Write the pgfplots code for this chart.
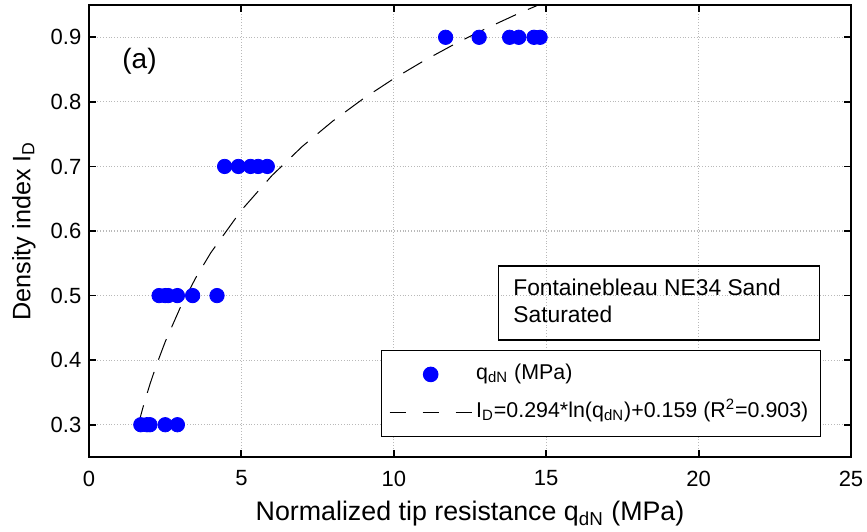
\documentclass[border=0pt]{standalone}
\usepackage{pgfplots}
\pgfplotsset{compat=1.18}
\usepackage{fontspec}
\setmainfont{Liberation Sans}
\definecolor{ptblue}{RGB}{0,0,255}
\pgfplotsset{
    markleg/.style={legend image code/.code={%
        \draw[mark repeat=2,mark phase=2,##1] plot coordinates {(0pt,0pt)(20.5pt,0pt)(41pt,0pt)};}},
    lineleg/.style={legend image code/.code={%
        \draw[black, line width=0.5pt, dash pattern=on 8pt off 8.5pt] (0pt,0pt) -- (41pt,0pt);}},
}

\begin{document}
\fontsize{11}{13}\selectfont
\begin{tikzpicture}
\begin{axis}[
    at={(0,0)}, anchor=south west,
    scale only axis,
    width=381pt, height=226pt,
    xmin=0, xmax=25, ymin=0.25, ymax=0.95,
    xtick={0,5,10,15,20,25},
    ytick={0.3,0.4,0.5,0.6,0.7,0.8,0.9},
    tick align=inside, tick pos=both,
    major tick length=3.5pt,
    tick style={black, line width=0.9pt},
    axis line style={line width=1pt},
    grid=major,
    major grid style={densely dotted, gray!55, line width=0.6pt},
    ticklabel style={font=\fontsize{11}{13}\selectfont},
    xticklabel style={yshift=-3pt},
    /pgf/number format/assume math mode=true,
    yticklabel style={/pgf/number format/fixed, /pgf/number format/precision=1},
    xlabel={Normalized tip resistance q\textsubscript{dN} (MPa)},
    ylabel={Density index I\textsubscript{D}},
    xlabel style={font=\fontsize{13.4}{15}\selectfont},
    ylabel style={font=\fontsize{12.6}{15}\selectfont},
    legend cell align=left,
    legend style={
        at={(rel axis cs:0.9606,0.0442)}, anchor=south east,
        draw=black, line width=0.6pt, inner xsep=4pt, inner ysep=4.5pt,
        row sep=4pt,
        nodes={text height=8pt, text depth=3pt},
        font=\fontsize{10.7}{12}\selectfont,
    },
]
\addplot[only marks, mark=*, mark size=3.6pt, color=ptblue, markleg]
coordinates {
    (1.7,0.3) (1.9,0.3) (2.0,0.3) (2.5,0.3) (2.9,0.3)
    (2.3,0.5) (2.5,0.5) (2.6,0.5) (2.9,0.5) (3.4,0.5) (4.2,0.5)
    (4.45,0.7) (4.9,0.7) (5.3,0.7) (5.55,0.7) (5.85,0.7)
    (11.7,0.9) (12.8,0.9) (13.8,0.9) (14.1,0.9) (14.6,0.9) (14.8,0.9)
};
\addlegendentry{q\textsubscript{dN} (MPa)}
\addplot[black, line width=0.5pt, dash pattern=on 11pt off 6.5pt, lineleg]
coordinates {
    (1.6,0.2972) (1.8,0.3318) (2.0,0.3628) (2.2,0.3908) (2.5,0.4284)
    (3.0,0.4820) (3.5,0.5273) (4.0,0.5666) (5.0,0.6322) (6.0,0.6858)
    (7.0,0.7311) (8.0,0.7703) (9.0,0.8050) (10.0,0.8360) (11.0,0.8640)
    (12.0,0.8896) (13.0,0.9131) (14.0,0.9349) (14.7,0.9492)
};
\addlegendentry{I\textsubscript{D}=0.294*ln(q\textsubscript{dN})+0.159 (R\textsuperscript{2}=0.903)}
\draw[line width=0.6pt] (rel axis cs:0.537,0.4226) rectangle (rel axis cs:0.959,0.2588);
\node[anchor=base west, inner sep=0pt, font=\fontsize{11.4}{13}\selectfont]
    at (rel axis cs:0.5564,0.3584) {Fontainebleau NE34 Sand};
\node[anchor=base west, inner sep=0pt, font=\fontsize{11.4}{13}\selectfont]
    at (rel axis cs:0.5564,0.2965) {Saturated};
\node[anchor=west, inner sep=0pt, font=\fontsize{14}{16}\selectfont] at (rel axis cs:0.0433,0.876) {(a)};
\end{axis}
\pgfresetboundingbox
\path[use as bounding box] (-44.5pt,-37pt) rectangle (389pt,228.5pt);
\end{tikzpicture}
\end{document}
